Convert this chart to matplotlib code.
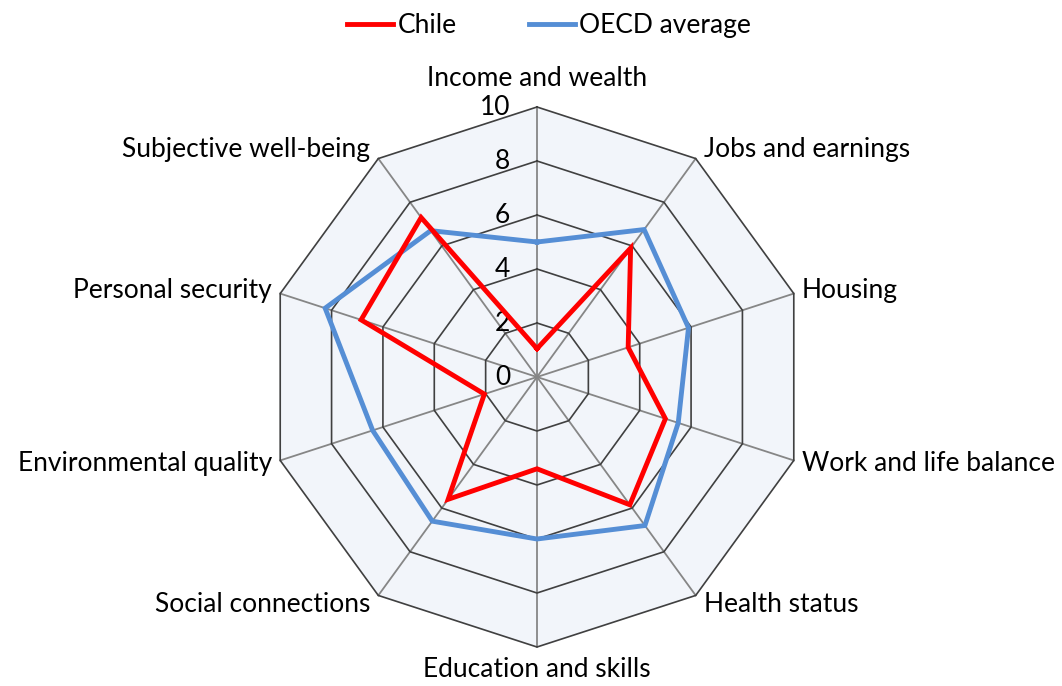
import numpy as np
from matplotlib import pyplot as plt

plt.rcParams['font.family'] = ['Lato', 'DejaVu Sans']

#Data
categories = ['Income and wealth', 'Jobs and earnings', 'Housing', 'Work and life balance',
              'Health status', 'Education and skills', 'Social connections',
              'Environmental quality', 'Personal security', 'Subjective well-being']
chile = [1.05, 5.9, 3.55, 5.0, 5.85, 3.4, 5.6, 2.05, 6.85, 7.3]
oecd = [5.0, 6.75, 5.9, 5.5, 6.8, 6.0, 6.6, 6.4, 8.25, 6.7]
ticks = [0, 2, 4, 6, 8, 10]

n = len(categories)
theta = np.arange(n) * 2 * np.pi / n

def to_xy(r):
    r = np.asarray(r, dtype=float)
    x = r * np.sin(theta)
    y = r * np.cos(theta)
    return np.append(x, x[0]), np.append(y, y[0])

fig = plt.figure(figsize=(10.62, 6.86), dpi=100)
ax = fig.add_axes([0, 0, 1, 1])
ax.set_xlim(-537/27, (1062-537)/27)
ax.set_ylim(-(686-377)/27, 377/27)
ax.axis('off')

#Background of the web
ox, oy = to_xy([10]*n)
ax.fill(ox, oy, color='#F2F5FA', zorder=0)

#Spokes
for t in theta:
    ax.plot([0, 10*np.sin(t)], [0, 10*np.cos(t)], color='#868686', lw=1.3, zorder=1)

#Rings
for v in ticks[1:]:
    rx, ry = to_xy([v]*n)
    ax.plot(rx, ry, color='#404040', lw=1.2, zorder=2)

#Tick labels
for v in ticks:
    ax.text(-1.0, v, str(v), ha='right', va='center', fontsize=19, color='black')

#Series
cx, cy = to_xy(chile)
bx, by = to_xy(oecd)
ax.plot(cx, cy, color='#FF0000', lw=3.5, label='Chile', zorder=4, solid_joinstyle='miter')
ax.plot(bx, by, color='#558ED5', lw=3.5, label='OECD average', zorder=3, solid_joinstyle='miter')

#Category labels
for t, name in zip(theta, categories):
    s, c = np.sin(t), np.cos(t)
    if abs(s) < 0.01:
        ax.text(0, 11.05 if c > 0 else -10.85, name, ha='center', va='center', fontsize=19)
    else:
        x = 10 * s + 0.3 * np.sign(s)
        y = 10 * c + (0.35 if abs(c) > 0.5 else 0.1) * np.sign(c)
        ax.text(x, y, name, ha='left' if s > 0 else 'right', va='center', fontsize=19)

fig.legend(loc='upper center', bbox_to_anchor=(0.517, 1.015), ncol=2, frameon=False,
           fontsize=19, handlelength=1.75, handletextpad=0.15, columnspacing=2.75)

fig.savefig('out.png', dpi=100)
